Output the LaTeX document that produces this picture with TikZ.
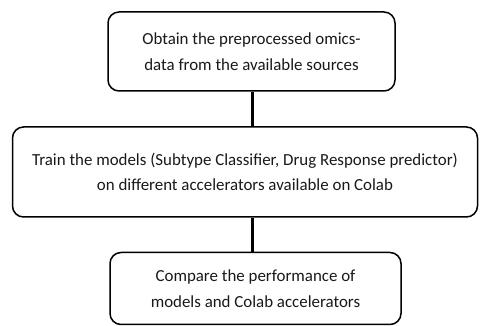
\documentclass[tikz,border=0pt]{standalone}
\usepackage{fontspec}
\setmainfont{Carlito}
\begin{document}
\begin{tikzpicture}[x=1pt,y=-1pt,
  stepbox/.style={draw=black, line width=1.5pt, rounded corners=11pt, fill=white, align=center, inner sep=0pt, font=\fontsize{16.9}{25.5}\selectfont, text=black!90},
  link/.style={line width=3pt, draw=black}]
\useasboundingbox (0,0) rectangle (480,326);
\node[stepbox, minimum width=287pt, minimum height=79pt] (a) at (251.5,51.5) {Obtain the preprocessed omics-\\data from the available sources};
\node[stepbox, minimum width=465pt, minimum height=90pt] (b) at (245,172) {Train the models (Subtype Classifier, Drug Response predictor)\\on different accelerators available on Colab};
\node[stepbox, minimum width=291pt, minimum height=72pt] (c) at (255.5,288.5) {Compare the performance of\\models and Colab accelerators};
\draw[link] (a.south -| 252,0) -- (b.north -| 252,0);
\draw[link] (b.south -| 252,0) -- (c.north -| 252,0);
\end{tikzpicture}
\end{document}
